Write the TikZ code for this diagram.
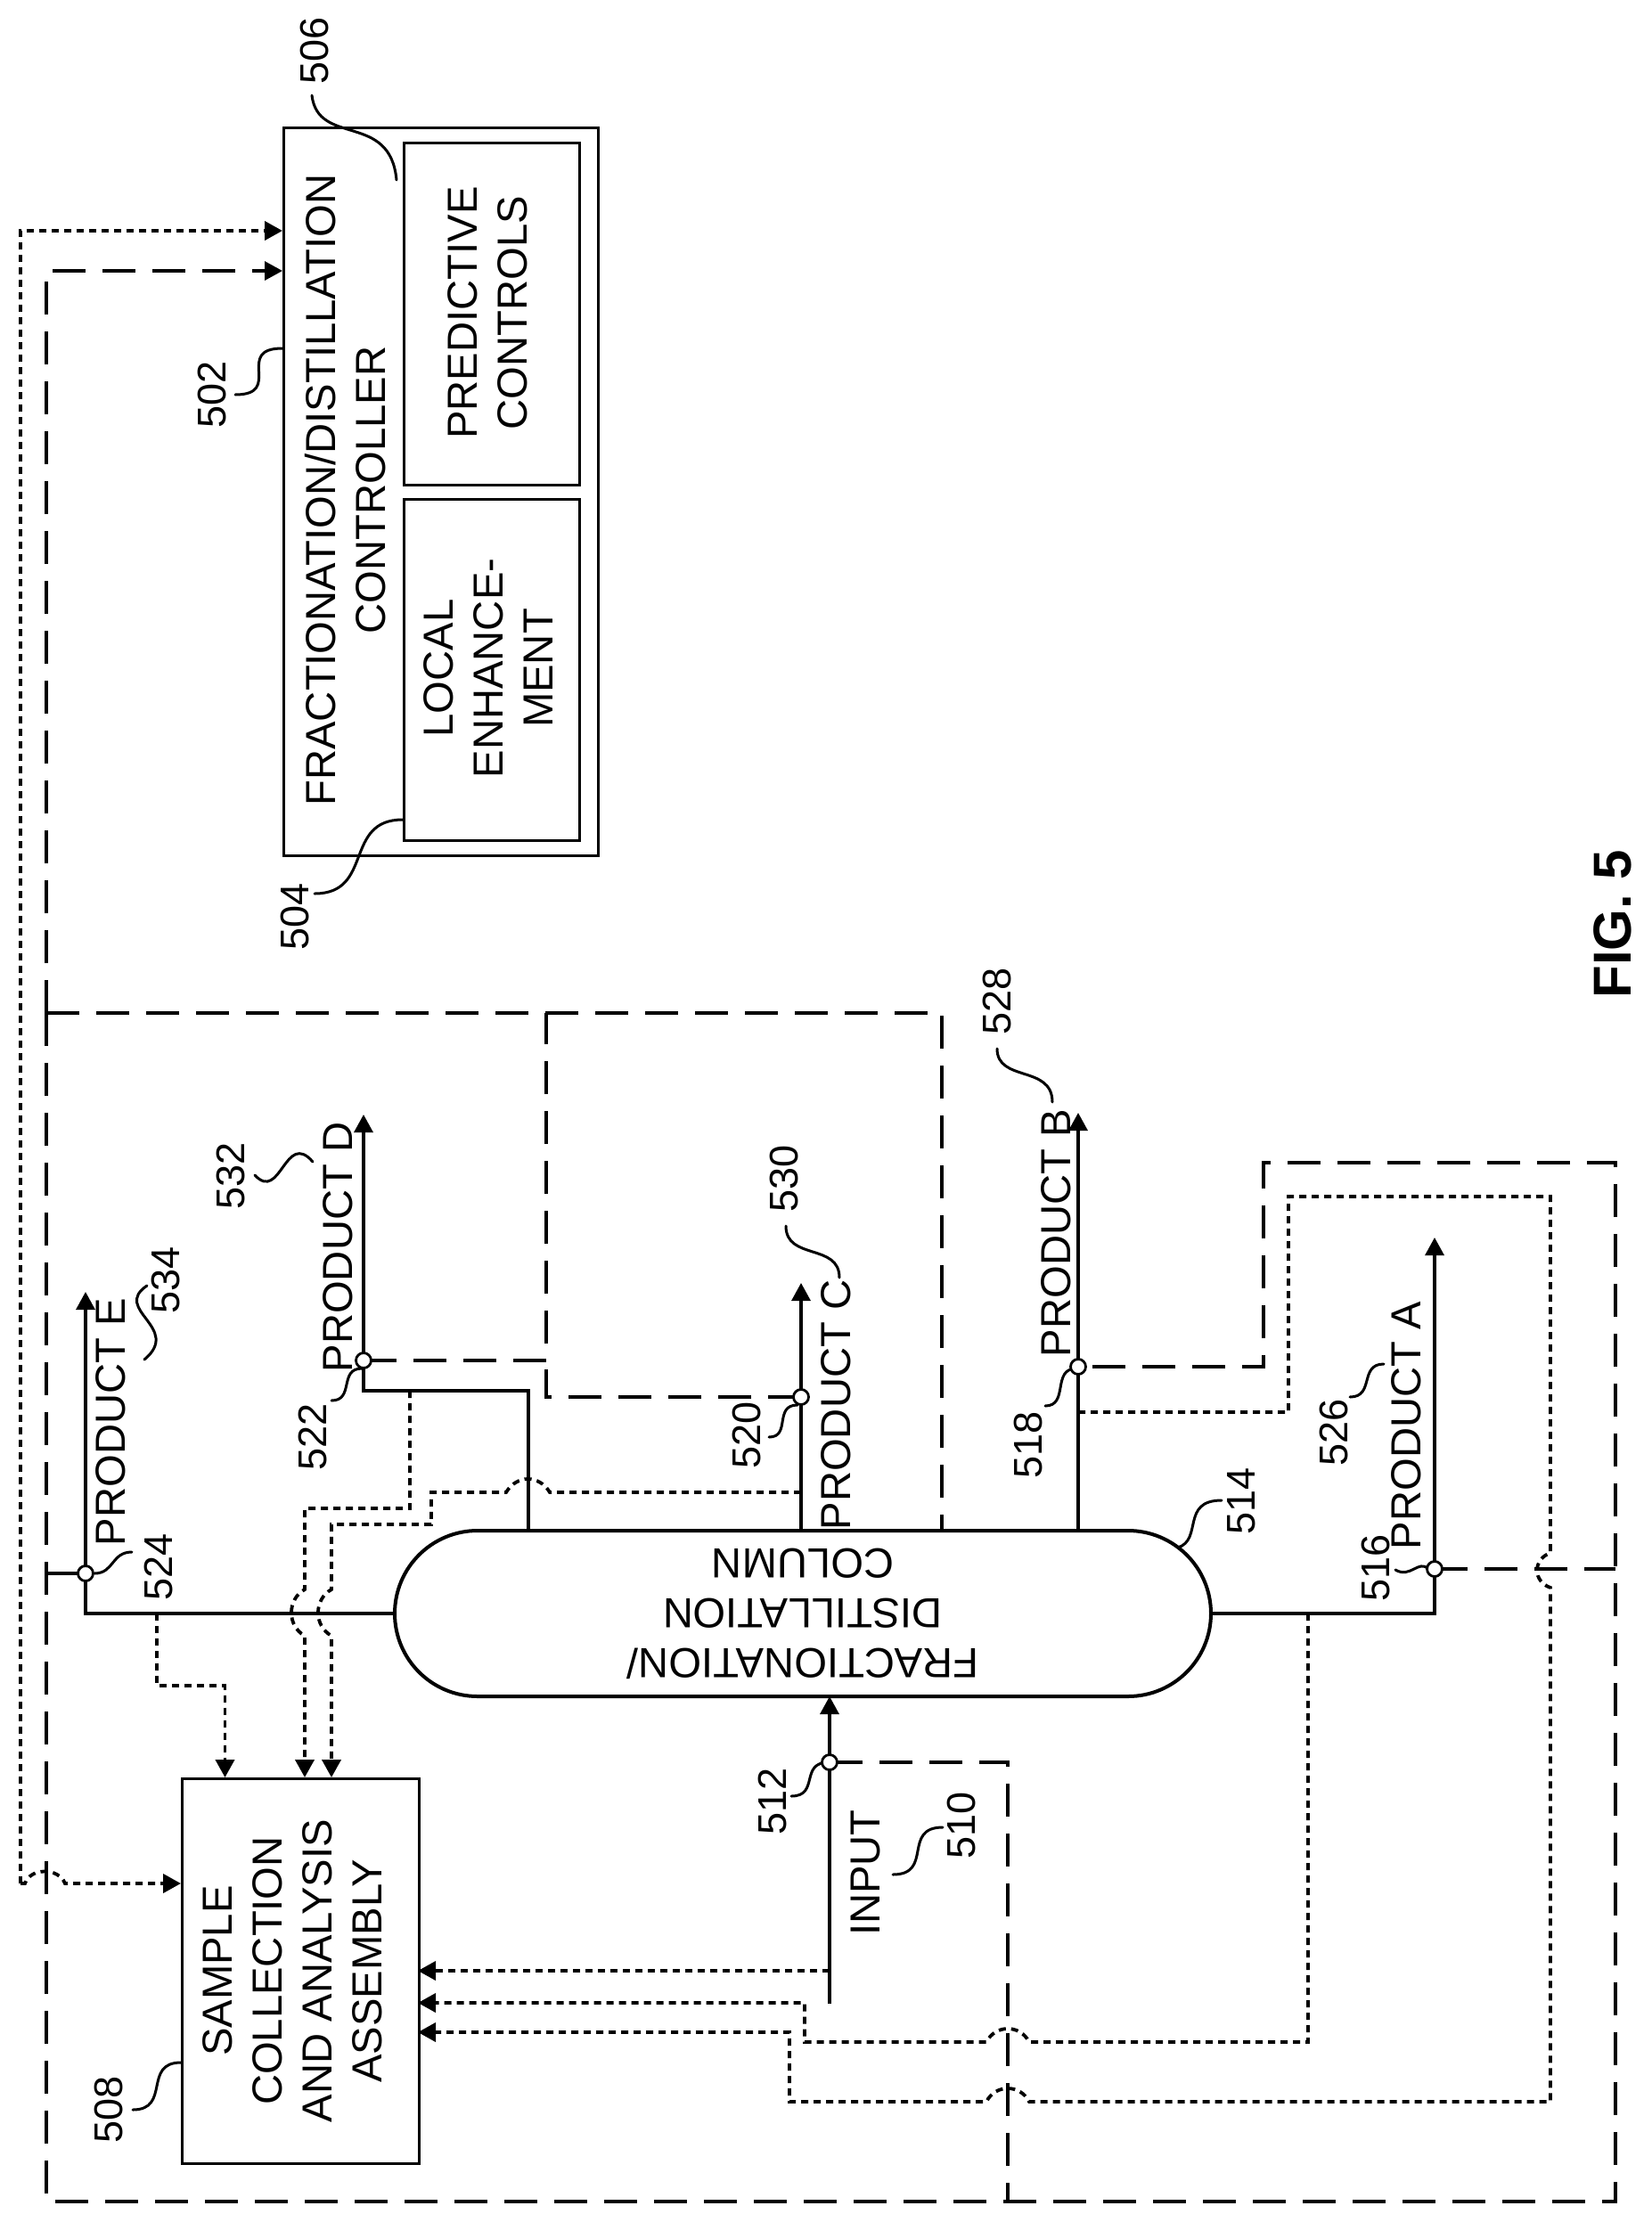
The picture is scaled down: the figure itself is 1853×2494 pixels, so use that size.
\documentclass[tikz,border=0pt]{standalone}
\usepackage{fontspec}
\setmainfont{Liberation Sans}
\usetikzlibrary{arrows.meta}
\tikzset{
  box/.style={draw,line width=1.5pt,inner sep=0pt,anchor=north west},
  lab/.style={font=\fontsize{23.6}{28}\selectfont,align=center,inner sep=0pt,rotate=90},
  refn/.style={font=\fontsize{22.5}{27}\selectfont,inner sep=0pt,rotate=90},
  solidl/.style={line width=1.6pt},
  dashl/.style={line width=1.6pt,dash pattern=on 18.5pt off 9.5pt},
  dotl/.style={line width=1.9pt,dash pattern=on 4pt off 3pt},
  arr/.style={-{Triangle[length=10pt,width=10.5pt]}},
  leader/.style={line width=1.5pt,line cap=round},
  junction/.style={circle,draw,fill=white,line width=1.4pt,minimum size=8.5pt,inner sep=0pt}
}
\begin{document}
\begin{tikzpicture}[x=0.5pt,y=-0.5pt]
\useasboundingbox (0,0) rectangle (1853,2494);
% blocks
\node[box,minimum width=176.5pt,minimum height=408.5pt] (ctrl) at (317,142) {};
\node[box,minimum width=98.5pt,minimum height=192pt] (pred) at (452,159) {};
\node[box,minimum width=98.5pt,minimum height=191.5pt] (local) at (452,559) {};
\node[box,minimum width=133pt,minimum height=216pt] (sample) at (203,1995) {};
\node[draw,line width=2pt,rounded corners=46.5pt,minimum width=458pt,minimum height=93pt,inner sep=0pt,outer sep=0pt,align=center,rotate=180,font=\fontsize{23.6}{28}\selectfont] (column) at (901,1811) {FRACTIONATION/\\DISTILLATION\\COLUMN};
% texts
\node[lab] (tctrl) at (388,550) {FRACTIONATION/DISTILLATION\\CONTROLLER};
\node[lab] (tpred) at (547,351) {PREDICTIVE\\CONTROLS};
\node[lab] (tlocal) at (548,750) {LOCAL\\ENHANCE-\\MENT};
\node[lab] (tsample) at (328.5,2212) {SAMPLE\\COLLECTION\\AND ANALYSIS\\ASSEMBLY};
\node[lab] (tinput) at (971,2102) {INPUT};
\node[lab] (tA) at (1578,1600) {PRODUCT A};
\node[lab] (tB) at (1185,1384) {PRODUCT B};
\node[lab] (tC) at (938,1577) {PRODUCT C};
\node[lab] (tD) at (379,1400) {PRODUCT D};
\node[lab] (tE) at (124,1596) {PRODUCT E};
\node[font=\fontsize{30}{36}\selectfont\bfseries,inner sep=0pt,rotate=90] (fig) at (1810,1037) {FIG. 5};
% reference numerals
\node[refn] (n502) at (238,443) {502};
\node[refn] (n504) at (331,1029) {504};
\node[refn] (n506) at (353,57) {506};
\node[refn] (n508) at (122,2368) {508};
\node[refn] (n510) at (1079,2049) {510};
\node[refn] (n512) at (867,2022) {512};
\node[refn] (n514) at (1393,1685) {514};
\node[refn] (n516) at (1544,1760) {516};
\node[refn] (n518) at (1154,1622) {518};
\node[refn] (n520) at (838,1611) {520};
\node[refn] (n522) at (351,1613) {522};
\node[refn] (n524) at (178,1759) {524};
\node[refn] (n526) at (1497,1608) {526};
\node[refn] (n528) at (1119,1124) {528};
\node[refn] (n530) at (880,1323) {530};
\node[refn] (n532) at (259,1320) {532};
\node[refn] (n534) at (186,1437) {534};
% named points
\coordinate (j512) at (931,1978);
\coordinate (j516) at (1610,1761);
\coordinate (j518) at (1210,1534);
\coordinate (j520) at (899,1568);
\coordinate (j522) at (408,1527);
\coordinate (j524) at (96,1766);
\coordinate (inTail) at (931,2249);
\coordinate (inTop) at (931,1904);
\coordinate (colL) at (443,1811);
\coordinate (colR) at (1359,1811);
\coordinate (colD) at (593,1718);
\coordinate (colC) at (899,1718);
\coordinate (colB) at (1210,1718);
\coordinate (tipA) at (1610,1389);
\coordinate (tipB) at (1210,1249);
\coordinate (tipC) at (899,1440);
\coordinate (tipD) at (408,1251);
\coordinate (tipE) at (96,1450);
\coordinate (cIn1) at (317,304);
\coordinate (cIn2) at (317,259);
\coordinate (sL) at (203,2114);
\coordinate (sR1) at (469,2212);
\coordinate (sR2) at (469,2248);
\coordinate (sR3) at (469,2281);
% dashed control lines
\draw[dashl,arr] (52,1137) coordinate (oTL) -- (52,304) -- (cIn1);
\draw[dashl] (oTL) -- (52,2471) coordinate (oBL) -- (1813,2471) coordinate (oBR) -- (1813,1305) coordinate (oTR) -- (1418,1305) -- (1418,1534) -- (j518);
\draw[dashl] (j516) -- (1813,1761);
\draw[dashl] (oTL) -- (1057,1137) -- (1057,1718);
\draw[dashl] (j522) -- (613,1527) -- (613,1137);
\draw[dashl] (j520) -- (613,1568) -- (613,1527);
\draw[dashl] (j512) -- (1131,1978) -- (1131,2471);
% solid process lines
\draw[solidl,arr] (inTail) -- (inTop);
\draw[solidl] (colR) -- (1610,1811) -- (j516);
\draw[solidl,arr] (j516) -- (tipA);
\draw[solidl,arr] (colB) -- (tipB);
\draw[solidl,arr] (colC) -- (tipC);
\draw[solidl] (colD) -- (593,1561) -- (408,1561) -- (j522);
\draw[solidl,arr] (j522) -- (tipD);
\draw[solidl] (colL) -- (96,1811) -- (j524);
\draw[solidl,arr] (j524) -- (tipE);
\draw[solidl] (j524) -- (52,1766);
% dotted sample lines
\draw[dotl,arr] (23,2114) -- (28,2114) .. controls (34,2096) and (66,2096) .. (73,2114) -- (sL);
\draw[dotl,arr] (23,2114) -- (23,259) -- (cIn2);
\draw[dotl,arr] (176,1811) -- (176,1892) -- (252.5,1892) -- (252.5,1995);
\draw[dotl,arr] (460,1561) -- (460,1693) -- (342,1693) -- (342,1784) .. controls (322,1795) and (322,1825) .. (342,1836) -- (342,1995);
\draw[dotl,arr] (899,1675) -- (617,1675) .. controls (605,1655) and (580,1655) .. (568,1675) -- (484,1675) -- (484,1711) -- (372,1711) -- (372,1784) .. controls (352,1795) and (352,1825) .. (372,1836) -- (372,1995);
\draw[dotl,arr] (931,2212) -- (sR1);
\draw[dotl,arr] (1468,1811) -- (1468,2292) -- (1155,2292) .. controls (1145,2272) and (1117,2272) .. (1107,2292) -- (903,2292) -- (903,2248) -- (sR2);
\draw[dotl,arr] (1210,1585) -- (1446,1585) -- (1446,1343) -- (1740,1343) -- (1740,1743) .. controls (1720,1750) and (1720,1775) .. (1740,1782) -- (1740,2359) -- (1155,2359) .. controls (1145,2339) and (1117,2339) .. (1107,2359) -- (886,2359) -- (886,2281) -- (sR3);
% leaders
\draw[leader] (317,391) .. controls (262,391) and (319,443) .. (264,443);
\draw[leader] (452,920) .. controls (385,920) and (420,1003) .. (353,1003);
\draw[leader] (445,202) .. controls (438,125) and (357,165) .. (350,107);
\draw[leader] (203,2315) .. controls (160,2315) and (192,2368) .. (149,2368);
\draw[leader] (1058,2051) .. controls (1012,2051) and (1048,2104) .. (1002,2104);
\draw[leader] (930,1978) .. controls (897,1978) and (920,2016) .. (888,2016);
\draw[leader] (1371,1684) .. controls (1325,1684) and (1350,1728) .. (1322,1737);
\draw[leader] (1603,1761) .. controls (1592,1750) and (1583,1772) .. (1566,1762);
\draw[leader] (1208,1536) .. controls (1180,1536) and (1200,1578) .. (1173,1578);
\draw[leader] (895,1577) .. controls (868,1577) and (888,1613) .. (863,1613);
\draw[leader] (406,1536) .. controls (380,1536) and (398,1572) .. (372,1572);
\draw[leader] (106,1766) .. controls (128,1766) and (125,1742) .. (148,1742);
\draw[leader] (1553,1531) .. controls (1525,1531) and (1543,1568) .. (1515,1568);
\draw[leader] (1119,1177) .. controls (1119,1215) and (1181,1195) .. (1181,1237);
\draw[leader] (882,1376) .. controls (882,1415) and (942,1395) .. (942,1434);
\draw[leader] (351,1304) .. controls (320,1268) and (315,1350) .. (286,1319);
\draw[leader] (165,1443) .. controls (125,1470) and (205,1490) .. (162,1526);
% junction nodes
\node[junction] (c512) at (j512) {};
\node[junction] (c516) at (j516) {};
\node[junction] (c518) at (j518) {};
\node[junction] (c520) at (j520) {};
\node[junction] (c522) at (j522) {};
\node[junction] (c524) at (j524) {};
\end{tikzpicture}
\end{document}
